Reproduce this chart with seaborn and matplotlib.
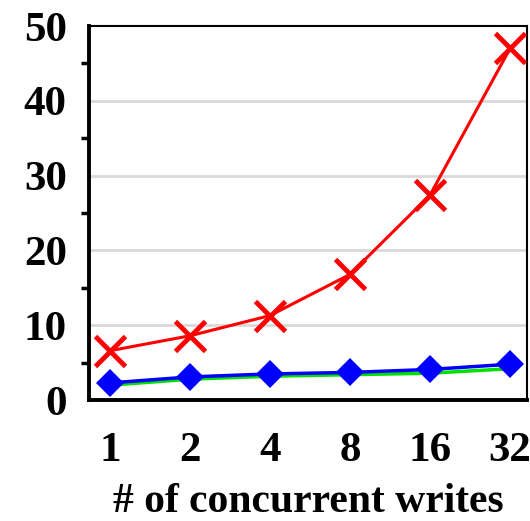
import numpy as np
import pandas as pd
import matplotlib.pyplot as plt
import seaborn as sns
from matplotlib.ticker import MultipleLocator

sns.set_style("white")
plt.rcParams['font.family'] = ['Liberation Serif', 'DejaVu Serif']
plt.rcParams['font.weight'] = 'bold'
plt.rcParams['text.color'] = 'black'
plt.rcParams['axes.labelcolor'] = 'black'
plt.rcParams['xtick.color'] = 'black'
plt.rcParams['ytick.color'] = 'black'

# data
writes = ['1', '2', '4', '8', '16', '32']
red_vals = [6.6, 8.6, 11.3, 16.8, 27.4, 47.0]
blue_vals = [2.3, 3.1, 3.5, 3.7, 4.1, 4.8]
green_vals = [2.0, 2.8, 3.2, 3.4, 3.6, 4.2]

pos = np.arange(len(writes))
df = pd.DataFrame({'pos': np.tile(pos, 3),
                   'val': red_vals + blue_vals + green_vals,
                   'series': ['red'] * 6 + ['blue'] * 6 + ['green'] * 6})

fig = plt.figure(figsize=(5.3, 5.21), dpi=100)
ax = fig.add_axes([0.168, 0.232, 0.826, 0.718])

for y in [10, 20, 30, 40]:
    ax.axhline(y, color='#d9d9d9', lw=2, zorder=0)

sns.lineplot(data=df[df.series == 'green'], x='pos', y='val', color='#00e000',
             lw=2.5, marker='s', markersize=4, markeredgewidth=0, ax=ax, zorder=2)
sns.lineplot(data=df[df.series == 'blue'], x='pos', y='val', color='#0000ff',
             lw=2.5, marker='D', markersize=14, markeredgewidth=0, ax=ax, zorder=3)
sns.lineplot(data=df[df.series == 'red'], x='pos', y='val', color='#ff0000',
             lw=2.2, marker='x', markersize=22, markeredgewidth=3.5,
             markeredgecolor='#ff0000', ax=ax, zorder=4)

ax.set_xlim(-0.26, 5.21)
ax.set_ylim(0, 50)
ax.set_xticks(pos)
ax.set_xticklabels(writes)
ax.yaxis.set_major_locator(MultipleLocator(10))
ax.yaxis.set_minor_locator(MultipleLocator(5))
ax.tick_params(axis='both', labelsize=31, width=2.5, direction='out')
ax.tick_params(axis='y', which='major', length=12, pad=4)
ax.tick_params(axis='y', which='minor', length=6, width=2.5, left=True)
ax.tick_params(axis='x', which='major', length=11, pad=12)
for lab in ax.get_xticklabels() + ax.get_yticklabels():
    lab.set_fontweight('bold')

ax.set_xlabel('# of concurrent writes', fontsize=30, fontweight='bold', labelpad=9)
ax.set_ylabel('')

for s in ['left', 'bottom']:
    ax.spines[s].set_linewidth(2.8)
    ax.spines[s].set_color('black')
for s in ['top', 'right']:
    ax.spines[s].set_linewidth(1.5)
    ax.spines[s].set_color('black')

fig.savefig('out.png', dpi=100)
